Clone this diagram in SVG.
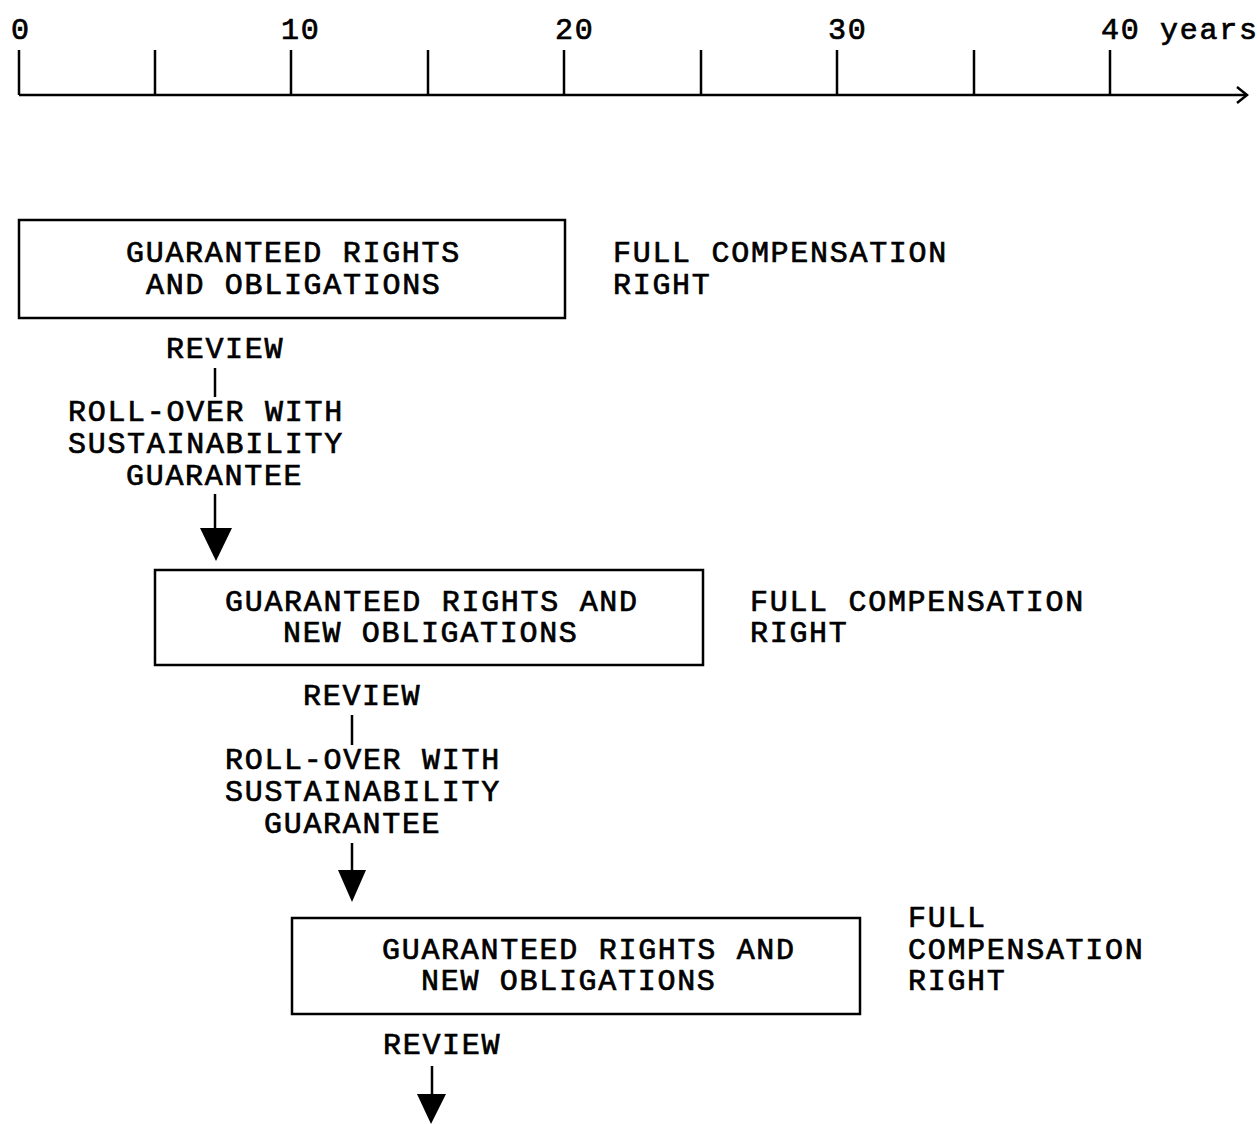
<svg xmlns="http://www.w3.org/2000/svg" width="1257" height="1124" viewBox="0 0 1257 1124">
<style>
text{font-family:"Liberation Mono","Courier New",monospace;font-size:30px;letter-spacing:1.7px;fill:#000;stroke:#000;stroke-width:0.7px}
.ln{stroke:#000;stroke-width:2.5;fill:none}
.box{stroke:#000;stroke-width:2.5;fill:#fff}
</style>
<g id="axis">
<line class="ln" x1="19" y1="95" x2="1246" y2="95"/>
<polyline class="ln" points="1237,87 1247,95 1237,103"/>
<g class="ln">
<line x1="19" y1="50" x2="19" y2="95"/>
<line x1="155" y1="50" x2="155" y2="95"/>
<line x1="291" y1="50" x2="291" y2="95"/>
<line x1="428" y1="50" x2="428" y2="95"/>
<line x1="564" y1="50" x2="564" y2="95"/>
<line x1="701" y1="50" x2="701" y2="95"/>
<line x1="837" y1="50" x2="837" y2="95"/>
<line x1="974" y1="50" x2="974" y2="95"/>
<line x1="1110" y1="50" x2="1110" y2="95"/>
</g>
<text x="11" y="39">0</text>
<text x="281" y="39">10</text>
<text x="555" y="39">20</text>
<text x="828" y="39">30</text>
<text x="1101" y="39">40 years</text>
</g>
<g id="connectors">
<line class="ln" x1="215" y1="368" x2="215" y2="397"/>
<line class="ln" x1="215" y1="494" x2="215" y2="532"/>
<polygon points="200,528 232,528 216,561" fill="#000"/>
<line class="ln" x1="352" y1="715" x2="352" y2="745"/>
<line class="ln" x1="352" y1="843" x2="352" y2="874"/>
<polygon points="338,870 366,870 352,902" fill="#000"/>
<line class="ln" x1="432" y1="1066" x2="432" y2="1098"/>
<polygon points="417,1094 446,1094 431,1124" fill="#000"/>
</g>
<g id="box1">
<rect class="box" x="19" y="220" width="546" height="98"/>
<text x="126" y="262">GUARANTEED RIGHTS</text>
<text x="146" y="294">AND OBLIGATIONS</text>
</g>
<g id="comp1">
<text x="613" y="262">FULL COMPENSATION</text>
<text x="613" y="294">RIGHT</text>
</g>
<g id="review1">
<text x="166" y="358">REVIEW</text>
</g>
<g id="rollover1">
<text x="68" y="421">ROLL-OVER WITH</text>
<text x="68" y="453">SUSTAINABILITY</text>
<text x="126" y="485">GUARANTEE</text>
</g>
<g id="box2">
<rect class="box" x="155" y="570" width="548" height="95"/>
<text x="225" y="611">GUARANTEED RIGHTS AND</text>
<text x="283" y="642">NEW OBLIGATIONS</text>
</g>
<g id="comp2">
<text x="750" y="611">FULL COMPENSATION</text>
<text x="750" y="642">RIGHT</text>
</g>
<g id="review2">
<text x="303" y="705">REVIEW</text>
</g>
<g id="rollover2">
<text x="225" y="769">ROLL-OVER WITH</text>
<text x="225" y="801">SUSTAINABILITY</text>
<text x="264" y="833">GUARANTEE</text>
</g>
<g id="box3">
<rect class="box" x="292" y="918" width="568" height="96"/>
<text x="382" y="959">GUARANTEED RIGHTS AND</text>
<text x="421" y="990">NEW OBLIGATIONS</text>
</g>
<g id="comp3">
<text x="908" y="927">FULL</text>
<text x="908" y="959">COMPENSATION</text>
<text x="908" y="990">RIGHT</text>
</g>
<g id="review3">
<text x="383" y="1054">REVIEW</text>
</g>
</svg>
